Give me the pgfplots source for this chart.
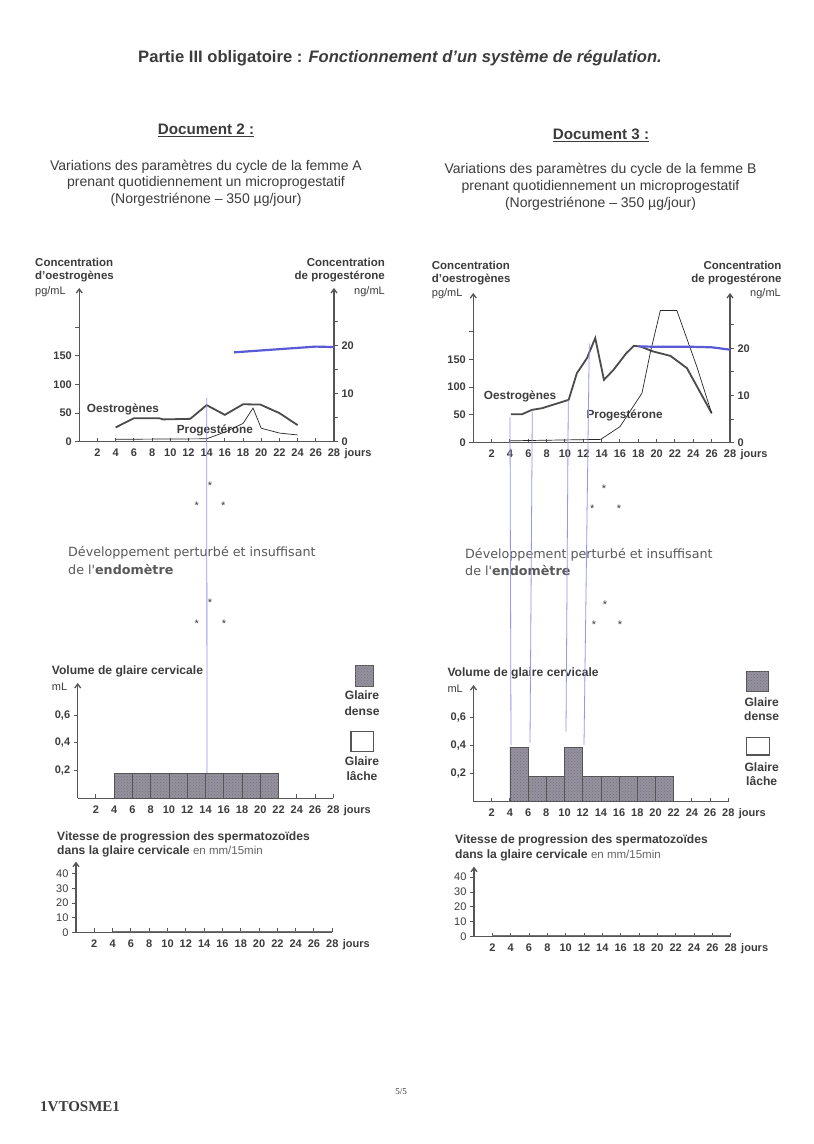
\documentclass[border=0pt]{standalone}
\usepackage{pgfplots}
\pgfplotsset{compat=1.18}
\usepackage{fontspec}
\setmainfont{Liberation Sans}
\newfontfamily\seriffont{Liberation Serif}
\newfontfamily\dejavu{DejaVu Sans}
\usetikzlibrary{arrows.meta,patterns}
\definecolor{ink}{RGB}{60,60,60}
\definecolor{axc}{RGB}{85,85,85}
\definecolor{estro}{RGB}{75,75,75}
\definecolor{penblue}{RGB}{90,90,215}
\definecolor{penlight}{RGB}{150,150,235}
\definecolor{barfill}{RGB}{150,145,160}

\pgfplotsset{
  base/.style={
    scale only axis,
    axis lines=left,
    axis line style={axc, line width=1.3pt},
    x axis line style={-},
    y axis line style={-{Straight Barb[length=4pt,width=6pt]}},
    xmin=0, xmax=28,
    xtick={2,4,...,28},
    xticklabels={2,4,6,8,10,12,14,16,18,20,22,24,26,28},
    tick style={axc, line width=1pt},
    major tick length=4pt,
    xtick align=inside, ytick align=outside,
    ticklabel style={font=\fontsize{11}{12}\selectfont\bfseries, text=ink},
    xticklabel style={anchor=base, yshift=-15pt},
    clip=false,
  },
}
\tikzset{jours/.style={font=\fontsize{11}{12}\selectfont\bfseries, text=ink, anchor=base west, xshift=7pt, yshift=-15pt}}

\begin{document}
\begin{tikzpicture}[x=1pt,y=1pt]
\path[use as bounding box, fill=white] (0,0) rectangle (814,1144);

% ---------- headings ----------
\node[font=\fontsize{16.6}{19}\selectfont\bfseries, text=ink] at (400,1086)
  {Partie III obligatoire : \textit{Fonctionnement d’un système de régulation.}};
\node[font=\fontsize{15.2}{17}\selectfont\bfseries, text=ink] at (206,1014) {\underline{Document 2 :}};
\node[font=\fontsize{15.2}{17}\selectfont\bfseries, text=ink] at (601,1009) {\underline{Document 3 :}};
\node[align=center, font=\fontsize{14}{16.7}\selectfont, text=ink] at (206,960.7)
  {Variations des paramètres du cycle de la femme A\\prenant quotidiennement un microprogestatif\\(Norgestriénone – 350 µg/jour)};
\node[align=center, font=\fontsize{14}{16.7}\selectfont, text=ink] at (600.5,957.3)
  {Variations des paramètres du cycle de la femme B\\prenant quotidiennement un microprogestatif\\(Norgestriénone – 350 µg/jour)};

% ---------- axis titles hormones ----------
\begin{scope}[every node/.style={font=\fontsize{11.5}{14}\selectfont\bfseries, text=ink, inner sep=0pt}]
\node[anchor=west] at (35,881.7) {Concentration};
\node[anchor=west] at (35,867.3) {d'oestrogènes};
\node[anchor=west, font=\fontsize{11}{13}\selectfont] at (35,852.3) {pg/mL};
\node[anchor=east] at (385,881.7) {Concentration};
\node[anchor=east] at (385,867.3) {de progestérone};
\node[anchor=east, font=\fontsize{11}{13}\selectfont] at (385,852.3) {ng/mL};
\node[anchor=west] at (431.7,879) {Concentration};
\node[anchor=west] at (431.7,864.7) {d'oestrogènes};
\node[anchor=west, font=\fontsize{11}{13}\selectfont] at (431.7,850.7) {pg/mL};
\node[anchor=east] at (781.7,879) {Concentration};
\node[anchor=east] at (781.7,864.7) {de progestérone};
\node[anchor=east, font=\fontsize{11}{13}\selectfont] at (781,850.7) {ng/mL};
\end{scope}

% ---------- Doc 2 hormones ----------
\begin{axis}[base, at={(79.3pt,702.3pt)}, anchor=south west, width=254.7pt, height=153.7pt,
  ymin=0, ymax=269, ytick={0,50,100,150,200}, yticklabels={0,50,100,150,{}}]
\addplot[estro, line width=1.8pt] coordinates {(4,25)(6,41)(8.8,41)(9.2,39)(12.2,40)(14,64)(16,47)(18,65.5)(19.9,65)(22,50)(24,29)};
\node[font=\fontsize{11.8}{14}\selectfont\bfseries, text=ink] at (axis cs:4.8,56.7) {Oestrogènes};
\node[font=\fontsize{11.8}{14}\selectfont\bfseries, text=ink] at (axis cs:14.9,20.5) {Progestérone};
\node[jours] at (axis cs:28,0) {jours};
\end{axis}
\begin{axis}[base, at={(79.3pt,702.3pt)}, anchor=south west, width=254.7pt, height=153.7pt,
  axis x line=none, axis y line*=right,
  ymin=0, ymax=32, ytick={0,5,...,25}, yticklabels={0,,10,,20,}]
\addplot[black!85, line width=0.7pt] coordinates {(4,0.5)(14,0.6)(16,2.0)(18,3.8)(19.1,7.0)(20,2.8)(22,1.8)(24,1.4)};
\addplot[penblue, line width=2.2pt] coordinates {(17,18.6)(20,19.0)(23,19.4)(26,19.8)(28,19.7)};
\end{axis}

% ---------- Doc 3 hormones ----------
\begin{axis}[base, at={(473.3pt,701.3pt)}, anchor=south west, width=256.7pt, height=149.7pt,
  ymin=0, ymax=269, ytick={0,50,100,150,200}, yticklabels={0,50,100,150,{}}]
\addplot[estro, line width=1.8pt] coordinates {(4.1,51)(5.3,51)(6.4,59)(7.5,62)(10.4,77)(11.3,125)(12.4,152)(13.3,188)(14.25,113)(15.3,131)(16.7,161)(17.5,174)(18.2,173)(19.6,164)(21.5,156)(23.3,134)(26,53)};
\node[font=\fontsize{11.8}{14}\selectfont\bfseries, text=ink] at (axis cs:5.1,82.7) {Oestrogènes};
\node[font=\fontsize{11.8}{14}\selectfont\bfseries, text=ink] at (axis cs:16.5,48.6) {Progestérone};
\node[jours] at (axis cs:28,0) {jours};
\end{axis}
\begin{axis}[base, at={(473.3pt,701.3pt)}, anchor=south west, width=256.7pt, height=149.7pt,
  axis x line=none, axis y line*=right,
  ymin=0, ymax=31.7, ytick={0,5,...,25}, yticklabels={0,,10,,20,}]
\addplot[black!85, line width=0.7pt] coordinates {(4,0.4)(13.9,0.7)(16,3.4)(18.4,10.5)(19.3,19)(20.4,28)(22.2,28)(24.4,16)(26,6.2)};
\addplot[penblue, line width=2.2pt] coordinates {(18,20.4)(20,20.3)(22,20.3)(24,20.3)(26,20.2)(28,19.7)};
\end{axis}

% ---------- endometre ----------
\foreach \x/\y in {210/658,196.7/638,223.3/638,210/541.3,196.7/520.7,224/520.7,
                   604/655.7,592.3/635.7,619/635.7,605/539.7,594/519,620/519}
  \node[font=\fontsize{11}{12}\selectfont, text=ink] at (\x,\y) {*};
\node[anchor=west, align=left, font=\dejavu\fontsize{12.7}{17.6}\selectfont, text=ink!85, inner sep=0pt] at (68,583.5)
  {Développement perturbé et insuffisant\\de l'\textbf{endomètre}};
\node[anchor=west, align=left, font=\dejavu\fontsize{12.7}{17.6}\selectfont, text=ink!85, inner sep=0pt] at (465,581.8)
  {Développement perturbé et insuffisant\\de l'\textbf{endomètre}};

% ---------- Glaire titles ----------
\begin{scope}[every node/.style={font=\fontsize{12.1}{14}\selectfont\bfseries, text=ink, inner sep=0pt}]
\node[anchor=west] at (51.7,472.3) {Volume de glaire cervicale};
\node[anchor=west, font=\fontsize{11}{13}\selectfont] at (51.7,457.3) {mL};
\node[anchor=west] at (447.3,470.7) {Volume de glaire cervicale};
\node[anchor=west, font=\fontsize{11}{13}\selectfont] at (447.3,455.7) {mL};
\node at (362,449) {Glaire};
\node at (362,433.3) {dense};
\node at (362,383.3) {Glaire};
\node at (362,368.3) {lâche};
\node at (761.7,442.3) {Glaire};
\node at (761.7,428) {dense};
\node at (761.7,377.3) {Glaire};
\node at (761.7,363.3) {lâche};
\end{scope}
\path[fill=barfill, draw=axc, line width=1pt, postaction={pattern=crosshatch dots, pattern color=black!55}] (355,457.3) rectangle (373.3,478);
\draw[axc, line width=1.3pt, fill=white] (351,392.7) rectangle (373.3,412.3);
\path[fill=barfill, draw=axc, line width=1pt, postaction={pattern=crosshatch dots, pattern color=black!55}] (746,452.3) rectangle (768.3,472.3);
\draw[axc, line width=1.3pt, fill=white] (746.7,389) rectangle (769.3,406.7);

% ---------- pen lines ----------
\draw[penlight, line width=0.8pt] (206.7,746) -- (207,371);
\draw[penlight, line width=0.8pt] (510,727) -- (511,399);
\draw[penlight, line width=0.8pt] (532.3,732.3) -- (530,401);
\draw[penlight, line width=0.8pt] (568.3,744) -- (566,412.3);
\draw[penlight, line width=0.8pt] (589.3,800.7) -- (584,399);

% ---------- Doc 2 glaire ----------
\begin{axis}[base, at={(77.7pt,345.7pt)}, anchor=south west, width=255.6pt, height=115.3pt,
  ymin=0, ymax=0.832, ytick={0.2,0.4,0.6}, yticklabels={{0,2},{0,4},{0,6}}]
\addplot[ybar interval, fill=barfill, draw=axc, line width=0.6pt, postaction={pattern=crosshatch dots, pattern color=black!55}]
  coordinates {(4,0.18)(6,0.18)(8,0.18)(10,0.18)(12,0.18)(14,0.18)(16,0.18)(18,0.18)(20,0.18)(22,0.18)};
\node[jours] at (axis cs:28,0) {jours};
\end{axis}

% ---------- Doc 3 glaire ----------
\begin{axis}[base, at={(473.5pt,342.3pt)}, anchor=south west, width=254.8pt, height=116.7pt,
  ymin=0, ymax=0.833, ytick={0.2,0.4,0.6}, yticklabels={{0,2},{0,4},{0,6}}]
\addplot[ybar interval, fill=barfill, draw=axc, line width=0.6pt, postaction={pattern=crosshatch dots, pattern color=black!55}]
  coordinates {(4,0.39)(6,0.18)(8,0.18)(10,0.39)(12,0.18)(14,0.18)(16,0.18)(18,0.18)(20,0.18)(22,0.18)};
\node[jours] at (axis cs:28,0) {jours};
\end{axis}

% ---------- Sperm titles ----------
\node[anchor=west, inner sep=0pt, font=\fontsize{12.1}{14}\selectfont\bfseries, text=ink] at (57,306.3) {Vitesse de progression des spermatozoïdes};
\node[anchor=west, inner sep=0pt, font=\fontsize{12.1}{14}\selectfont\bfseries, text=ink] at (57,292.3) {dans la glaire cervicale \mdseries\fontsize{11.5}{13}\selectfont\color{ink!80} en mm/15min};
\node[anchor=west, inner sep=0pt, font=\fontsize{12.1}{14}\selectfont\bfseries, text=ink] at (455,304) {Vitesse de progression des spermatozoïdes};
\node[anchor=west, inner sep=0pt, font=\fontsize{12.1}{14}\selectfont\bfseries, text=ink] at (455,289) {dans la glaire cervicale \mdseries\fontsize{11.5}{13}\selectfont\color{ink!80} en mm/15min};

% ---------- Doc 2 sperm ----------
\begin{axis}[base, at={(76pt,211.7pt)}, anchor=south west, width=256.3pt, height=70.6pt,
  ymin=0, ymax=48.4, ytick={0,10,...,40}, yticklabels={0,10,20,30,40},
  yticklabel style={font=\fontsize{11}{12}\selectfont\mdseries}]
\addplot[black!55, line width=0.6pt] coordinates {(4,0.8)(28,0.8)};
\node[jours] at (axis cs:28,0) {jours};
\end{axis}

% ---------- Doc 3 sperm ----------
\begin{axis}[base, at={(474pt,207.3pt)}, anchor=south west, width=256.7pt, height=70pt,
  ymin=0, ymax=47, ytick={0,10,...,40}, yticklabels={0,10,20,30,40},
  yticklabel style={font=\fontsize{11}{12}\selectfont\mdseries}]
\addplot[black!55, line width=0.6pt] coordinates {(2,0.8)(28,0.8)};
\node[jours] at (axis cs:28,0) {jours};
\end{axis}

% ---------- footer ----------
\node[anchor=west, inner sep=0pt, font=\seriffont\fontsize{15}{18}\selectfont\bfseries, text=ink] at (40,37) {1VTOSME1};
\node[font=\seriffont\fontsize{9}{11}\selectfont, text=ink] at (401,52.3) {5/5};
\end{tikzpicture}
\end{document}
